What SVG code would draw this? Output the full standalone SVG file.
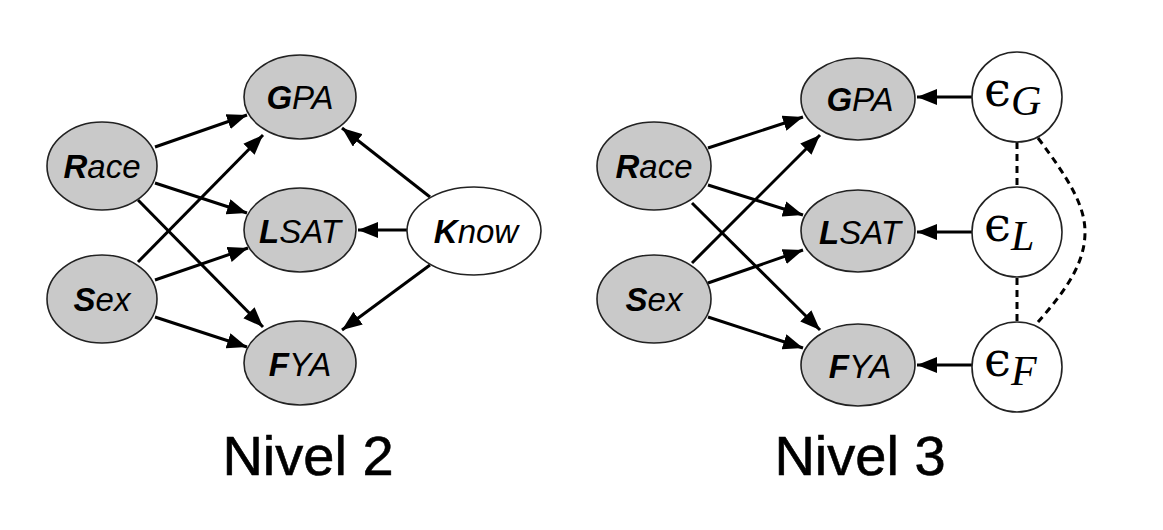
<svg xmlns="http://www.w3.org/2000/svg" width="1163" height="530" viewBox="0 0 1163 530">
<defs>
<marker id="ah" markerWidth="20" markerHeight="16" refX="19" refY="7.5" orient="auto" markerUnits="userSpaceOnUse" viewBox="0 0 19 15">
<path d="M0,0 L19,7.5 L0,15 Z" fill="#000"/>
</marker>
<style>
.obs{fill:#c9c9c9;stroke:#222;stroke-width:1.6}
.lat{fill:#fff;stroke:#222;stroke-width:1.6}
.lbl{font-family:"Liberation Sans",Arial,sans-serif;font-style:italic;font-size:33px;text-anchor:middle;fill:#000}
.b{font-weight:bold}
.eps{font-family:"DejaVu Serif","Liberation Serif",serif;font-size:48px;fill:#000}
.sub{font-family:"Liberation Serif",serif;font-style:italic;font-size:42px}
.e{stroke:#000;stroke-width:3;fill:none;marker-end:url(#ah)}
.d{stroke:#000;stroke-width:3;fill:none;stroke-dasharray:7,5}
.cap{font-family:"Liberation Sans",Arial,sans-serif;font-size:56px;text-anchor:middle;fill:#000;stroke:#000;stroke-width:0.6}
</style>
</defs>
<rect width="1163" height="530" fill="#fff"/>
<g id="connectors">
<line class="e" x1="155" y1="147" x2="247" y2="115"/>
<line class="e" x1="155" y1="183" x2="247" y2="213"/>
<line class="e" x1="138" y1="200" x2="263" y2="327"/>
<line class="e" x1="138" y1="262" x2="263" y2="135"/>
<line class="e" x1="155" y1="280" x2="248" y2="248"/>
<line class="e" x1="155" y1="317" x2="247" y2="347"/>
<line class="e" x1="430" y1="197" x2="342" y2="128"/>
<line class="e" x1="407" y1="230" x2="358" y2="230"/>
<line class="e" x1="430" y1="265" x2="342" y2="330"/>
<line class="e" x1="708" y1="148" x2="803" y2="117"/>
<line class="e" x1="708" y1="185" x2="803" y2="215"/>
<line class="e" x1="692" y1="203" x2="820" y2="330"/>
<line class="e" x1="692" y1="263" x2="820" y2="135"/>
<line class="e" x1="708" y1="283" x2="803" y2="250"/>
<line class="e" x1="708" y1="317" x2="803" y2="348"/>
<line class="e" x1="972" y1="97" x2="917" y2="97"/>
<line class="e" x1="972" y1="232" x2="917" y2="232"/>
<line class="e" x1="972" y1="365" x2="917" y2="365"/>
<line class="d" x1="1017" y1="142" x2="1017" y2="187"/>
<line class="d" x1="1017" y1="278" x2="1017" y2="322"/>
<path class="d" d="M1038,138 C1068,178 1085,205 1085,232 C1085,262 1068,288 1038,322"/>
</g>
<g id="race2"><ellipse class="obs" cx="102" cy="166" rx="55" ry="44"/><text class="lbl" x="102" y="178"><tspan class="b">R</tspan>ace</text></g>
<g id="sex2"><ellipse class="obs" cx="102" cy="299" rx="55" ry="44"/><text class="lbl" x="102" y="311"><tspan class="b">S</tspan>ex</text></g>
<g id="gpa2"><ellipse class="obs" cx="300" cy="97" rx="56" ry="42"/><text class="lbl" x="300" y="109"><tspan class="b">G</tspan>PA</text></g>
<g id="lsat2"><ellipse class="obs" cx="300" cy="230" rx="56" ry="42"/><text class="lbl" x="300" y="243"><tspan class="b">L</tspan>SAT</text></g>
<g id="fya2"><ellipse class="obs" cx="300" cy="363" rx="56" ry="42"/><text class="lbl" x="300" y="376"><tspan class="b">F</tspan>YA</text></g>
<g id="know2"><ellipse class="lat" cx="474" cy="231" rx="67" ry="44"/><text class="lbl" x="476" y="243"><tspan class="b">K</tspan>now</text></g>
<g id="race3"><ellipse class="obs" cx="654" cy="166" rx="57" ry="44"/><text class="lbl" x="654" y="178"><tspan class="b">R</tspan>ace</text></g>
<g id="sex3"><ellipse class="obs" cx="654" cy="299" rx="57" ry="44"/><text class="lbl" x="654" y="311"><tspan class="b">S</tspan>ex</text></g>
<g id="gpa3"><ellipse class="obs" cx="858" cy="99" rx="57" ry="41"/><text class="lbl" x="860" y="111"><tspan class="b">G</tspan>PA</text></g>
<g id="lsat3"><ellipse class="obs" cx="858" cy="231" rx="57" ry="41"/><text class="lbl" x="860" y="244"><tspan class="b">L</tspan>SAT</text></g>
<g id="fya3"><ellipse class="obs" cx="858" cy="365" rx="57" ry="41"/><text class="lbl" x="860" y="378"><tspan class="b">F</tspan>YA</text></g>
<g id="epsG"><circle class="lat" cx="1017" cy="97" r="45"/><text class="eps" x="984" y="106">ϵ<tspan class="sub" dy="9">G</tspan></text></g>
<g id="epsL"><circle class="lat" cx="1017" cy="232" r="45"/><text class="eps" x="984" y="241">ϵ<tspan class="sub" dy="9">L</tspan></text></g>
<g id="epsF"><circle class="lat" cx="1017" cy="367" r="45"/><text class="eps" x="984" y="376">ϵ<tspan class="sub" dy="9">F</tspan></text></g>
<g id="captions">
<text class="cap" x="308" y="475">Nivel 2</text>
<text class="cap" x="860" y="475">Nivel 3</text>
</g>
</svg>
